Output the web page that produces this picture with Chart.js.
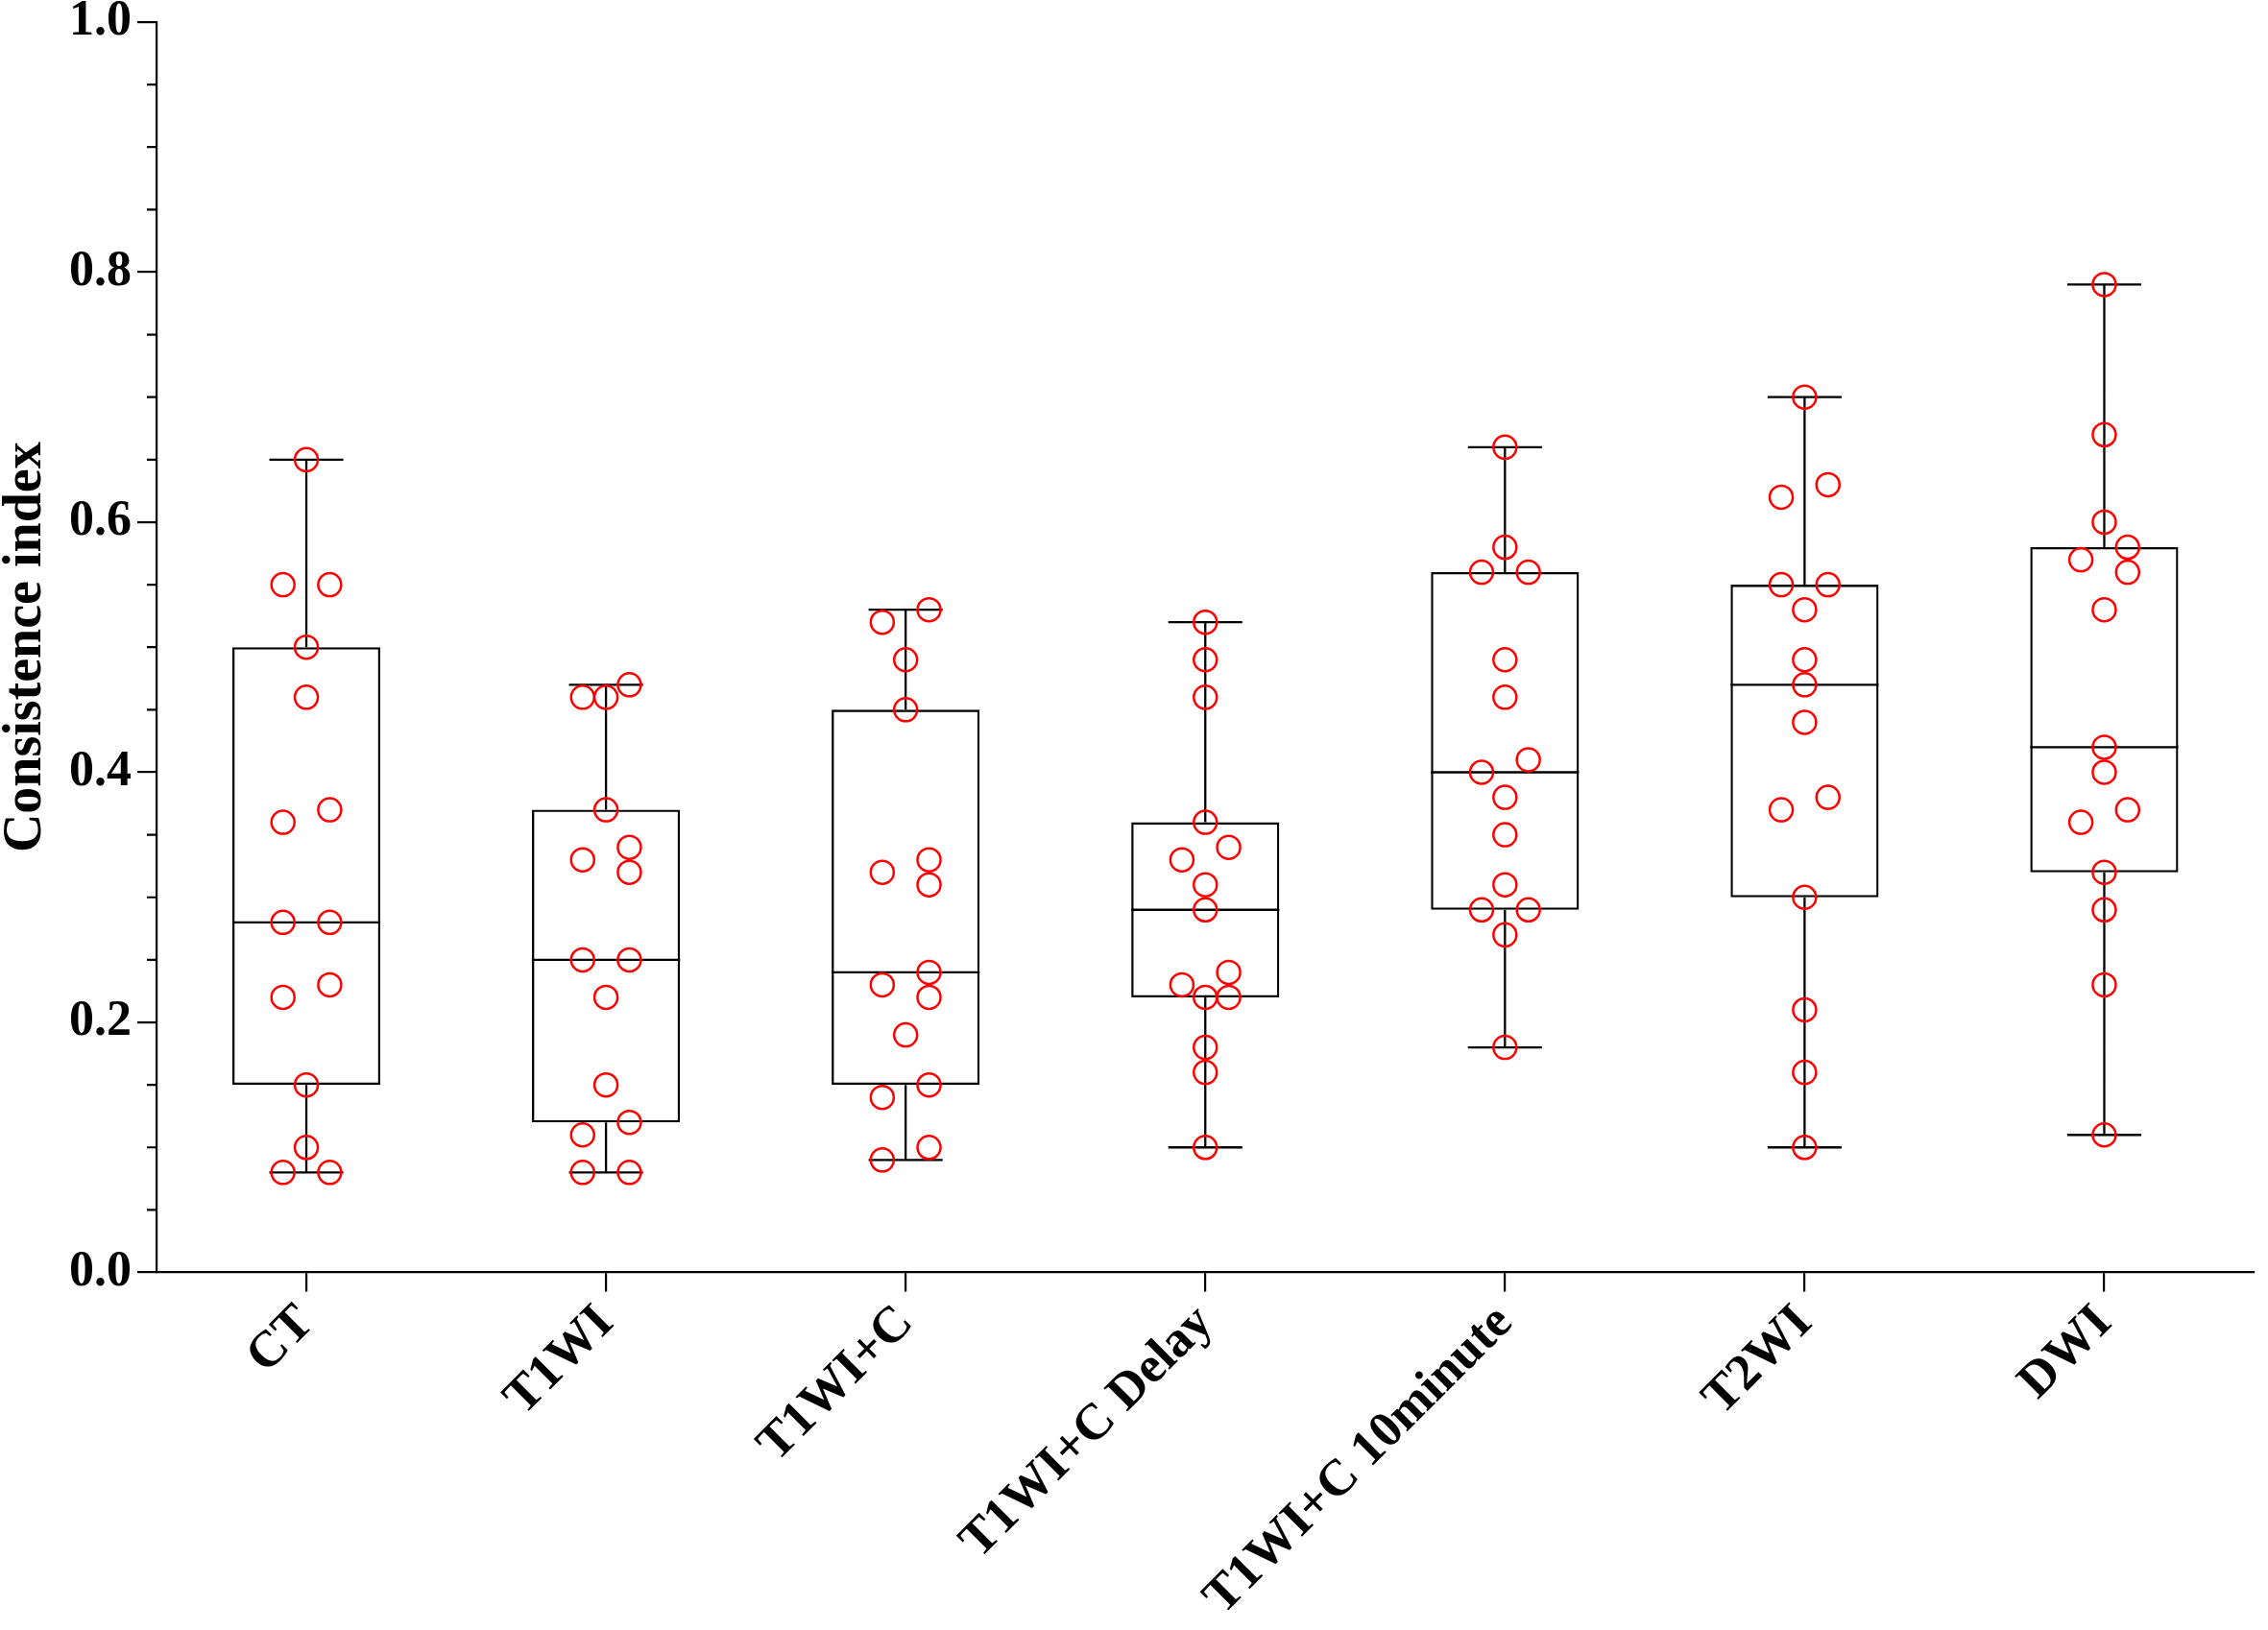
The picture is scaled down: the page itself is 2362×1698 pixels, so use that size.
<!DOCTYPE html>
<html>
<head>
<meta charset="utf-8">
<script src="https://cdn.jsdelivr.net/npm/chart.js@4.4.1/dist/chart.umd.min.js"></script>
<style>
 html, body { margin: 0; padding: 0; background: #fff; }
 #wrap { width: 2362px; height: 1698px; }
</style>
</head>
<body>
<div id="wrap"><canvas id="boxChart"></canvas></div>
<script>
const categories = ["CT", "T1WI", "T1WI+C", "T1WI+C Delay", "T1WI+C 10minute", "T2WI", "DWI"];

const ctValues = [0.65, 0.55, 0.55, 0.50, 0.46, 0.37, 0.36, 0.28, 0.28, 0.23, 0.22, 0.15, 0.10, 0.08, 0.08];
const t1wiValues = [0.47, 0.46, 0.46, 0.37, 0.34, 0.33, 0.32, 0.25, 0.25, 0.22, 0.15, 0.12, 0.11, 0.08, 0.08];
const t1wiCValues = [0.53, 0.52, 0.49, 0.45, 0.33, 0.32, 0.31, 0.24, 0.23, 0.22, 0.19, 0.15, 0.14, 0.10, 0.09];
const t1wiCDelayValues = [0.52, 0.49, 0.46, 0.36, 0.34, 0.33, 0.31, 0.29, 0.24, 0.23, 0.22, 0.22, 0.18, 0.16, 0.10];
const t1wiC10minValues = [0.66, 0.58, 0.56, 0.56, 0.49, 0.46, 0.41, 0.40, 0.38, 0.35, 0.31, 0.29, 0.29, 0.27, 0.18];
const t2wiValues = [0.70, 0.63, 0.62, 0.55, 0.55, 0.53, 0.49, 0.47, 0.44, 0.38, 0.37, 0.30, 0.21, 0.16, 0.10];
const dwiValues = [0.79, 0.67, 0.60, 0.58, 0.57, 0.56, 0.53, 0.42, 0.40, 0.37, 0.36, 0.32, 0.29, 0.23, 0.11];

const yTicks = [0, 0.2, 0.4, 0.6, 0.8, 1.0];
const yMinorStep = 0.05;

const groups = [ctValues, t1wiValues, t1wiCValues, t1wiCDelayValues, t1wiC10minValues, t2wiValues, dwiValues];

// quartiles the (n+1)p way, like Prism
function quantile(sorted, p) {
 const pos = (sorted.length + 1) * p;
 const lo = Math.floor(pos);
 const frac = pos - lo;
 if (lo < 1) return sorted[0];
 if (lo >= sorted.length) return sorted[sorted.length - 1];
 return sorted[lo - 1] + frac * (sorted[lo] - sorted[lo - 1]);
}

const boxes = groups.map((vals) => {
 const s = vals.slice().sort((a, b) => a - b);
 return { min: s[0], q1: quantile(s, 0.25), med: quantile(s, 0.5), q3: quantile(s, 0.75), max: s[s.length - 1] };
});

// simple beeswarm: near-equal values get pushed sideways
const LANE = 0.078;  // one circle step, in category units
const CLASH = 0.019; // circles overlap closer than this, in value units
function swarm(values) {
 const sorted = values.slice().sort((a, b) => b - a);
 const placed = [];
 let i = 0;
 while (i < sorted.length) {
  let j = i + 1;
  while (j < sorted.length && sorted[j - 1] - sorted[j] < 0.015) j++;
  const order = j - i > 1 ? [1, -1, 0, 2, -2] : [0, 1, -1, 2, -2];
  for (let k = i; k < j; k++) {
   const v = sorted[k];
   const lane = order.find((l) => !placed.some((p) => p.lane === l && Math.abs(p.v - v) < CLASH));
   placed.push({ v, lane });
  }
  i = j;
 }
 return placed;
}

const points = [];
groups.forEach((vals, gi) => {
 swarm(vals).forEach((p) => points.push({ x: gi + p.lane * LANE, y: p.v }));
});

const whiskerPlugin = {
 id: "whiskers",
 afterDatasetDraw(chart, args) {
  if (args.index !== 0) return;
  const { ctx } = chart;
  const y = chart.scales.y;
  ctx.save();
  ctx.strokeStyle = "#000";
  ctx.lineWidth = 2.3;
  ctx.beginPath();
  args.meta.data.forEach((bar, i) => {
   const b = boxes[i];
   const half = bar.width / 2;
   const cap = bar.width / 4;
   const yMin = y.getPixelForValue(b.min);
   const yQ1 = y.getPixelForValue(b.q1);
   const yMed = y.getPixelForValue(b.med);
   const yQ3 = y.getPixelForValue(b.q3);
   const yMax = y.getPixelForValue(b.max);
   ctx.moveTo(bar.x - half, yMed);
   ctx.lineTo(bar.x + half, yMed);
   ctx.moveTo(bar.x, yQ3);
   ctx.lineTo(bar.x, yMax);
   ctx.moveTo(bar.x - cap, yMax);
   ctx.lineTo(bar.x + cap, yMax);
   ctx.moveTo(bar.x, yQ1);
   ctx.lineTo(bar.x, yMin);
   ctx.moveTo(bar.x - cap, yMin);
   ctx.lineTo(bar.x + cap, yMin);
  });
  ctx.stroke();
  ctx.restore();
 },
 afterDraw(chart) {
  const { ctx } = chart;
  const y = chart.scales.y;
  const x0 = y.right;
  ctx.save();
  ctx.strokeStyle = "#000";
  ctx.lineWidth = 2.2;
  ctx.beginPath();
  for (let k = 1; k * yMinorStep < y.max; k++) {
   const v = k * yMinorStep;
   if (yTicks.some((t) => Math.abs(t - v) < 1e-6)) continue;
   const py = y.getPixelForValue(v);
   ctx.moveTo(x0 - 10, py);
   ctx.lineTo(x0, py);
  }
  ctx.stroke();
  ctx.restore();
 },
};

Chart.defaults.font.family = "'Liberation Serif', 'Times New Roman', serif";
Chart.defaults.font.weight = "bold";
Chart.defaults.color = "#000";

const ctx = document.getElementById("boxChart").getContext("2d");
new Chart(ctx, {
 type: "bar",
 data: {
  labels: categories,
  datasets: [
   {
    type: "bar",
    data: boxes.map((b) => [b.q1, b.q3]),
    backgroundColor: "rgba(0,0,0,0)",
    borderColor: "#000",
    borderWidth: 2.3,
    borderSkipped: false,
    grouped: false,
    barPercentage: 0.494,
    categoryPercentage: 1,
    order: 2,
   },
   {
    type: "scatter",
    data: points,
    xAxisID: "xs",
    pointRadius: 12,
    pointBorderWidth: 2.5,
    pointBorderColor: "#ff0000",
    pointBackgroundColor: "rgba(0,0,0,0)",
    order: 1,
   },
  ],
 },
 options: {
  responsive: true,
  maintainAspectRatio: false,
  devicePixelRatio: 1,
  animation: false,
  layout: { padding: { top: 0, right: -5, bottom: 0, left: 0 } },
  plugins: { legend: { display: false }, tooltip: { enabled: false } },
  scales: {
   x: {
    type: "category",
    offset: true,
    grid: { display: true, drawOnChartArea: false, offset: false, color: "#000", lineWidth: 2.2, tickLength: 20 },
    border: { display: true, color: "#000", width: 2.2 },
    ticks: {
     autoSkip: false,
     minRotation: 45,
     maxRotation: 45,
     padding: 2,
     font: { size: 53, weight: "bold", lineHeight: 1.2 },
    },
   },
   xs: {
    type: "linear",
    display: false,
    offset: false,
    grid: { offset: false },
    bounds: "data",
    min: -0.5,
    max: 6.5,
   },
   y: {
    min: 0,
    max: 1,
    afterBuildTicks: (scale) => {
     scale.ticks = yTicks.map((v) => ({ value: v }));
    },
    grid: { display: true, drawOnChartArea: false, color: "#000", lineWidth: 2.2, tickLength: 20 },
    border: { display: true, color: "#000", width: 2.2 },
    ticks: {
     padding: 6,
     font: { size: 52, weight: "bold", lineHeight: 0.65 },
     callback: (v) => Number(v).toFixed(1),
    },
    title: {
     display: true,
     text: "Consistence index",
     font: { size: 56, weight: "bold", lineHeight: 1 },
     padding: { top: 0, bottom: 10 },
    },
   },
  },
 },
 plugins: [whiskerPlugin],
});
</script>
</body>
</html>
